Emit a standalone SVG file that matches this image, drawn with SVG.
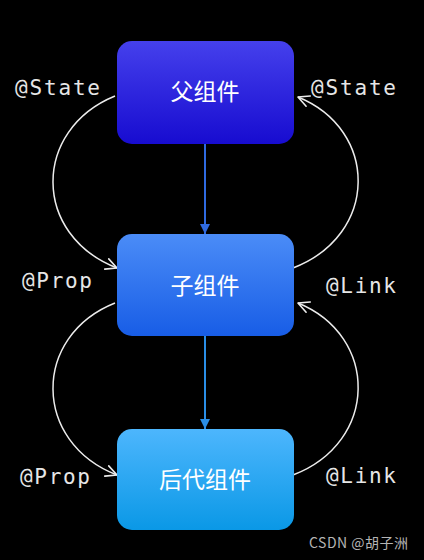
<svg xmlns="http://www.w3.org/2000/svg" width="424" height="560" viewBox="0 0 424 560">
  <defs>
    <linearGradient id="g1" x1="0" y1="0" x2="0" y2="1">
      <stop offset="0" stop-color="#4540ec"/>
      <stop offset="1" stop-color="#170cd0"/>
    </linearGradient>
    <linearGradient id="g2" x1="0" y1="0" x2="0" y2="1">
      <stop offset="0" stop-color="#4b8cf7"/>
      <stop offset="1" stop-color="#185de6"/>
    </linearGradient>
    <linearGradient id="g3" x1="0" y1="0" x2="0" y2="1">
      <stop offset="0" stop-color="#4db6fd"/>
      <stop offset="1" stop-color="#0a98e6"/>
    </linearGradient>
    <marker id="open" viewBox="0 0 14 14" refX="13" refY="7" markerWidth="14" markerHeight="14" markerUnits="userSpaceOnUse" orient="auto">
      <path d="M2,1.5 L13,7 L2,12.5" fill="none" stroke="#ececec" stroke-width="1.6" stroke-linecap="round" stroke-linejoin="round"/>
    </marker>
    <marker id="tri1" viewBox="0 0 10 10" refX="10" refY="5" markerWidth="10" markerHeight="10" markerUnits="userSpaceOnUse" orient="auto">
      <path d="M0,0 L10,5 L0,10 Z" fill="#2f6ae0"/>
    </marker>
    <marker id="tri2" viewBox="0 0 10 10" refX="10" refY="5" markerWidth="10" markerHeight="10" markerUnits="userSpaceOnUse" orient="auto">
      <path d="M0,0 L10,5 L0,10 Z" fill="#2a8ee6"/>
    </marker>
  </defs>
  <style>
    .node text { font-family: "Noto Sans CJK SC", "Noto Sans", sans-serif; font-size: 23px; fill: #ffffff; text-anchor: middle; }
    .lbl { font-family: "DejaVu Sans Mono", "Liberation Mono", monospace; font-size: 21px; fill: #e6e6e6; }
    .curve { fill: none; stroke: #ececec; stroke-width: 1.5; marker-end: url(#open); }
    .wm { font-family: "Noto Sans CJK SC", "Noto Sans", sans-serif; font-size: 14px; fill: #b4b4b4; }
  </style>
  <rect width="424" height="560" fill="#000000"/>

  <g id="connectors">
    <line x1="205" y1="144" x2="205" y2="234" stroke="#2f6ae0" stroke-width="2" marker-end="url(#tri1)"/>
    <line x1="205" y1="336" x2="205" y2="429" stroke="#2a8ee6" stroke-width="2" marker-end="url(#tri2)"/>
    <path class="curve" d="M115,96 C32,130 32,235 117,268"/>
    <path class="curve" d="M293,268 C379,235 379,130 298,97"/>
    <path class="curve" d="M115,303 C32,336 32,442 117,475"/>
    <path class="curve" d="M293,475 C379,442 379,336 298,303"/>
  </g>

  <g id="labels">
    <text class="lbl" x="15" y="95" textLength="85" lengthAdjust="spacing">@State</text>
    <text class="lbl" x="311" y="95" textLength="85" lengthAdjust="spacing">@State</text>
    <text class="lbl" x="22" y="288" textLength="70" lengthAdjust="spacing">@Prop</text>
    <text class="lbl" x="326" y="293" textLength="70" lengthAdjust="spacing">@Link</text>
    <text class="lbl" x="20" y="484" textLength="70" lengthAdjust="spacing">@Prop</text>
    <text class="lbl" x="326" y="483" textLength="70" lengthAdjust="spacing">@Link</text>
  </g>

  <g id="parent" class="node">
    <rect x="117" y="41" width="177" height="103" rx="15" fill="url(#g1)"/>
    <text x="205" y="100">父组件</text>
  </g>
  <g id="child" class="node">
    <rect x="117" y="234" width="177" height="102" rx="15" fill="url(#g2)"/>
    <text x="205" y="294">子组件</text>
  </g>
  <g id="descendant" class="node">
    <rect x="117" y="429" width="177" height="101" rx="15" fill="url(#g3)"/>
    <text x="205" y="488">后代组件</text>
  </g>

  <text class="wm" x="309" y="548" textLength="99" lengthAdjust="spacing">CSDN @胡子洲</text>
</svg>
